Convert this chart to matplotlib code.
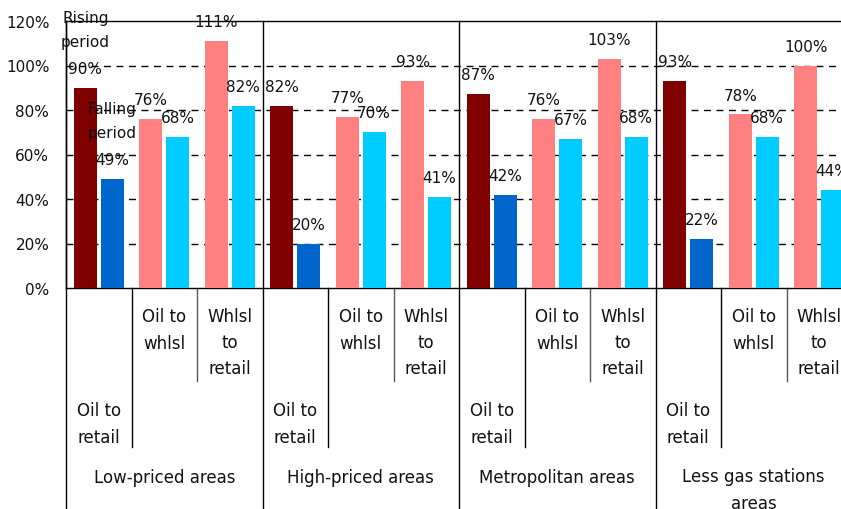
import matplotlib.pyplot as plt
import numpy as np

# Data (percent)
groups = ["Low-priced areas", "High-priced areas", "Metropolitan areas",
          "Less gas stations\nareas"]
subcats = ["Oil to\nretail", "Oil to\nwhlsl", "Whlsl\nto\nretail"]
rising = [90, 76, 111, 82, 77, 93, 87, 76, 103, 93, 78, 100]
falling = [49, 68, 82, 20, 70, 41, 42, 67, 68, 22, 68, 44]
yticks = [0, 20, 40, 60, 80, 100, 120]

rising_colors = ["#800000", "#FF8080", "#FF8080"]
falling_colors = ["#0066CC", "#00CCFF", "#00CCFF"]

W, H = 841, 510
fig = plt.figure(figsize=(W / 100, H / 100), dpi=100)
ax = fig.add_axes([66 / W, 221 / H, 786 / W, 267 / H])

n = len(rising)
x = np.arange(n) + 0.5
bw = 0.35
off = 0.205
rc = [rising_colors[i % 3] for i in range(n)]
fc = [falling_colors[i % 3] for i in range(n)]
b1 = ax.bar(x - off, rising, bw, color=rc, zorder=3)
b2 = ax.bar(x + off, falling, bw, color=fc, zorder=3)

ax.set_xlim(0, n)
ax.set_ylim(0, 120)
ax.set_yticks(yticks)
ax.set_yticklabels([f"{v}%" for v in yticks], fontsize=11, color="#111111")
ax.tick_params(axis="y", length=0, pad=12)
ax.set_xticks([])
for v in yticks[1:-1]:
    ax.axhline(v, color="black", lw=1, ls=(0, (5, 4)), zorder=1)
for s in ax.spines.values():
    s.set_color("black")
    s.set_linewidth(1)
ax.spines["right"].set_visible(False)

txt = dict(fontsize=11, color="#111111")

# value labels
for bars, vals in ((b1, rising), (b2, falling)):
    for b, v in zip(bars, vals):
        ax.annotate(f"{v}%", (b.get_x() + b.get_width() / 2, v),
                    xytext=(0, 14), textcoords="offset points",
                    ha="center", va="center", zorder=5, **txt)

# series names above first pair
ax.annotate("Rising\nperiod", (x[0] - off, rising[0]), xytext=(0, 42),
            textcoords="offset points", ha="center", va="center",
            linespacing=1.75, zorder=5, annotation_clip=False, **txt)
ax.annotate("Falling\nperiod", (x[0] + off, falling[0]), xytext=(0, 42),
            textcoords="offset points", ha="center", va="center",
            linespacing=1.75, zorder=5, **txt)

# multi-level category axis below the plot
tr = ax.get_xaxis_transform()
def fy(p):
    return (289 - p) / 267

lab = dict(fontsize=12, color="#111111", linespacing=1.6,
           ha="center", va="center", transform=tr)
for g in range(len(groups) + 1):
    ax.plot([g * 3, g * 3], [1, fy(510)], transform=tr, color="black",
            lw=1, clip_on=False, zorder=4)
for g, name in enumerate(groups):
    yc = fy(478) if "\n" not in name else fy(490.5)
    ax.text(g * 3 + 1.5, yc, name, **lab)
    ax.plot([g * 3 + 1] * 2, [0, fy(448)], transform=tr, color="black",
            lw=1, clip_on=False)
    ax.plot([g * 3 + 2] * 2, [0, fy(382)], transform=tr, color="#555555",
            lw=1, clip_on=False)
    ax.text(g * 3 + 0.5, fy(424.5), subcats[0], **lab)
    ax.text(g * 3 + 1.5, fy(330.5), subcats[1], **lab)
    ax.text(g * 3 + 2.5, fy(343), subcats[2], **lab)

fig.savefig("out.png", dpi=100)
